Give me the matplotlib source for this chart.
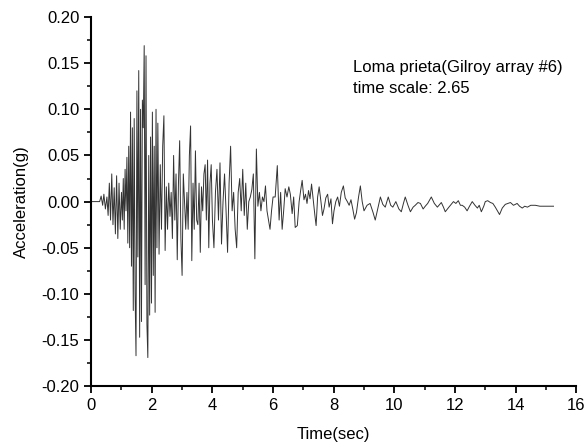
import matplotlib
matplotlib.use("Agg")
from matplotlib import pyplot as plt
from matplotlib.ticker import MultipleLocator

# record (time in sec, acceleration in g)
t_0 = [0, 0.28, 0.33, 0.38, 0.42, 0.47, 0.52, 0.56, 0.6, 0.64, 0.68, 0.72, 0.76, 0.8,
       0.84, 0.88, 0.92, 0.96, 1.0]
a_0 = [0, 0, 0.006, -0.004, 0.008, -0.008, 0.005, -0.015, 0.02, -0.02, 0.03, -0.025,
       0.015, -0.035, 0.028, -0.04, 0.02, -0.03, 0.01]

t_1 = [1.03, 1.06, 1.09, 1.12, 1.15, 1.18, 1.21, 1.24, 1.27, 1.30, 1.33, 1.36, 1.39,
       1.42, 1.45, 1.48, 1.51, 1.54, 1.57, 1.60, 1.63, 1.66, 1.69, 1.72, 1.75, 1.78,
       1.81, 1.84, 1.87, 1.90, 1.93, 1.96, 1.99, 2.02, 2.05, 2.08, 2.11, 2.14, 2.17, 2.20]
a_1 = [-0.02, 0.025, -0.03, 0.035, -0.01, 0.048, -0.045, 0.06, -0.05, 0.097, -0.07,
       0.08, -0.118, 0.09, -0.1, -0.167, 0.12, -0.06, 0.142, -0.147, 0.1, -0.13, 0.11,
       0.08, 0.169, -0.09, 0.158, -0.133, -0.169, 0.05, -0.123, 0.07, -0.11, 0.097,
       -0.08, 0.06, -0.12, 0.10, -0.05, 0.085]

t_2 = [2.24, 2.28, 2.32, 2.36, 2.40, 2.44, 2.48, 2.52, 2.56, 2.60, 2.64, 2.68, 2.72,
       2.76, 2.80, 2.84, 2.88, 2.92, 2.96, 3.00, 3.04, 3.08, 3.12, 3.16, 3.20, 3.24,
       3.28, 3.32, 3.36, 3.40, 3.44, 3.48, 3.52, 3.56, 3.60, 3.64, 3.68, 3.72, 3.76,
       3.80, 3.84, 3.88, 3.92, 3.96, 4.00]
a_2 = [-0.057, 0.04, -0.03, 0.06, 0.093, -0.053, 0.016, -0.03, 0.02, -0.016, 0.01,
       -0.04, 0.05, -0.02, 0.03, -0.063, 0.02, 0.066, -0.04, -0.08, 0.03, 0.0, -0.03,
       0.01, -0.03, 0.05, 0.082, -0.064, 0.02, -0.03, 0.055, -0.02, -0.025, 0.02,
       -0.055, 0.016, -0.01, 0.03, 0.04, -0.02, 0.045, -0.05, 0.02, 0.04, -0.02]

t_4 = [4.05, 4.10, 4.15, 4.20, 4.25, 4.30, 4.35, 4.40, 4.45, 4.50, 4.55, 4.60, 4.65,
       4.70, 4.75, 4.80, 4.85, 4.90, 4.95, 5.00, 5.05, 5.10, 5.15, 5.20, 5.25, 5.30,
       5.35, 5.40, 5.45, 5.50, 5.55, 5.60, 5.65, 5.70, 5.75, 5.80, 5.85, 5.90, 5.95, 6.00]
a_4 = [-0.05, 0.01, 0.035, -0.02, 0.042, -0.046, 0.0, 0.03, -0.01, -0.055, 0.02, 0.06,
       -0.01, 0.01, -0.03, -0.05, 0.01, 0.025, -0.01, 0.035, -0.015, 0.02, -0.03, 0.0,
       0.005, 0.013, 0.03, -0.062, 0.057, -0.005, 0.01, -0.01, 0.005, 0.0, 0.017,
       -0.01, -0.02, -0.03, -0.01, 0.005]

t_6 = [6.07, 6.14, 6.20, 6.25, 6.30, 6.35, 6.40, 6.46, 6.52, 6.57, 6.63, 6.68, 6.73,
       6.80, 6.86, 6.91, 6.96, 7.02, 7.07, 7.12, 7.17, 7.22, 7.27, 7.33, 7.38, 7.42,
       7.47, 7.52, 7.58, 7.63, 7.68, 7.74, 7.80, 7.85, 7.91, 7.96, 8.01, 8.07, 8.13,
       8.19, 8.25, 8.32, 8.38, 8.45, 8.51, 8.57, 8.63, 8.69, 8.75, 8.82, 8.88, 8.94, 9.00]
a_6 = [0.005, 0.039, -0.02, 0.01, -0.03, -0.01, 0.014, 0.005, 0.016, 0.008, -0.013,
       0.005, -0.028, -0.026, 0.0, 0.012, 0.023, 0.002, 0.008, -0.002, 0.012, 0.003,
       0.019, 0.0, -0.015, -0.026, 0.005, 0.016, 0.0, -0.015, -0.008, 0.004, 0.008,
       -0.006, 0.003, -0.024, -0.01, 0.0, 0.005, -0.005, 0.01, 0.017, 0.004, 0.0,
       -0.004, 0.002, -0.008, -0.019, -0.012, 0.005, 0.017, 0.0, -0.01]

t_9 = [9.1, 9.2, 9.3, 9.37, 9.45, 9.54, 9.62, 9.7, 9.8, 9.88, 9.95, 10.05, 10.15,
       10.23, 10.3, 10.36, 10.45, 10.53, 10.62, 10.69, 10.78, 10.86, 10.95, 11.02,
       11.1, 11.22, 11.32, 11.42, 11.5, 11.55, 11.62, 11.68, 11.8, 11.95, 12.03,
       12.11, 12.18, 12.24, 12.32, 12.4, 12.48, 12.57, 12.66, 12.74, 12.8, 12.87,
       12.95, 13.0, 13.08, 13.17, 13.25, 13.33, 13.4, 13.47, 13.56, 13.66, 13.75,
       13.83, 13.93, 14.05, 14.13, 14.22, 14.3, 14.39, 14.5, 14.65, 14.8, 14.92,
       15.05, 15.25]
a_9 = [-0.004, -0.002, -0.012, -0.02, -0.008, 0.005, -0.003, -0.006, 0.005, -0.004,
       -0.006, 0.0, -0.008, -0.011, -0.002, 0.005, -0.004, -0.011, -0.006, -0.004,
       -0.001, -0.002, -0.008, -0.005, -0.002, 0.005, -0.002, -0.006, -0.003, -0.001,
       -0.006, -0.011, -0.006, 0.0, -0.002, 0.001, -0.004, -0.004, -0.006, -0.01,
       -0.005, 0.0, -0.004, -0.007, -0.004, -0.011, -0.005, 0.0, 0.001, -0.001,
       -0.002, -0.006, -0.01, -0.014, -0.007, -0.003, -0.002, -0.001, -0.004, -0.002,
       -0.005, -0.007, -0.005, -0.006, -0.004, -0.004, -0.005, -0.005, -0.005, -0.005]

time = t_0 + t_1 + t_2 + t_4 + t_6 + t_9
accel = a_0 + a_1 + a_2 + a_4 + a_6 + a_9

plt.rcParams['font.family'] = ['Liberation Sans', 'DejaVu Sans']
plt.rcParams['font.size'] = 12

fig = plt.figure(figsize=(5.88, 4.48), dpi=100)
ax = fig.add_axes([0.155, 0.138, 0.825, 0.824])

ax.plot(time, accel, color='#333333', linewidth=0.7)

ax.set_xlim(0, 16)
ax.set_ylim(-0.20, 0.20)
ax.xaxis.set_major_locator(MultipleLocator(2))
ax.xaxis.set_minor_locator(MultipleLocator(1))
ax.yaxis.set_major_locator(MultipleLocator(0.05))
ax.yaxis.set_minor_locator(MultipleLocator(0.025))
ax.yaxis.set_major_formatter(matplotlib.ticker.FormatStrFormatter('%.2f'))

ax.spines['top'].set_visible(False)
ax.spines['right'].set_visible(False)
ax.spines['left'].set_linewidth(1.5)
ax.spines['bottom'].set_linewidth(1.5)
ax.tick_params(which='major', direction='out', length=5, width=1.3, labelsize=12)
ax.tick_params(which='minor', direction='out', length=3, width=1.1)

ax.set_xlabel("Time(sec)", fontsize=12, labelpad=10)
ax.set_ylabel("Acceleration(g)", fontsize=12, labelpad=9)

ax.text(8.65, 0.145, "Loma prieta(Gilroy array #6)", fontsize=12, va='center')
ax.text(8.65, 0.123, "time scale: 2.65", fontsize=12, va='center')

fig.savefig("out.png", dpi=100)
